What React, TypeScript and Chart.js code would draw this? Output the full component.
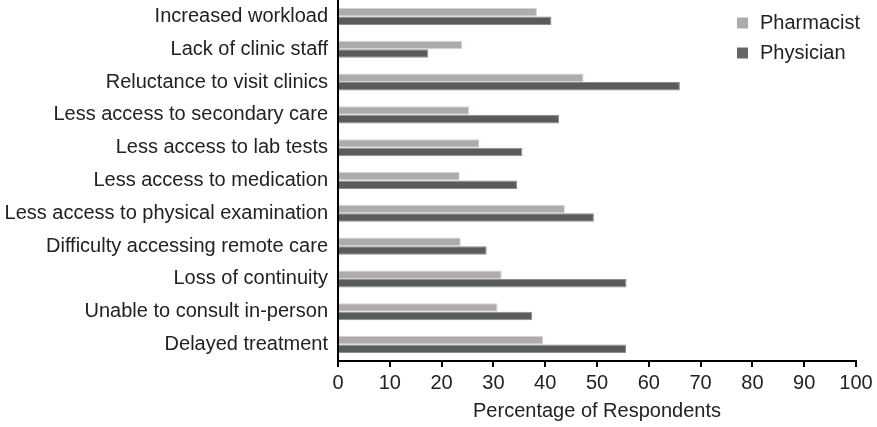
import React, { useEffect, useRef } from "react";
import { Chart, registerables } from "chart.js";

Chart.register(...registerables);

const categories = [
  "Increased workload",
  "Lack of clinic staff",
  "Reluctance to visit clinics",
  "Less access to secondary care",
  "Less access to lab tests",
  "Less access to medication",
  "Less access to physical examination",
  "Difficulty accessing remote care",
  "Loss of continuity",
  "Unable to consult in-person",
  "Delayed treatment",
];

const pharmacistValues = [38.4, 24.0, 47.4, 25.3, 27.3, 23.5, 43.8, 23.7, 31.6, 30.8, 39.6];
const physicianValues = [41.2, 17.4, 66.0, 42.7, 35.6, 34.6, 49.4, 28.7, 55.7, 37.5, 55.6];

const xTickStep = 10;
const xMin = 0;
const xMax = 100;
const xTitle = "Percentage of Respondents";

const FONT = "'Liberation Sans', Arial, sans-serif";
const TEXT = "#222222";

const legendPlugin = {
  id: "boxLegend",
  afterDatasetsDraw(chart: any) {
    const { ctx } = chart;
    const items = [
      { label: chart.data.datasets[0].label, color: "#acacac" },
      { label: chart.data.datasets[1].label, color: "#666666" },
    ];
    ctx.save();
    ctx.font = `20px ${FONT}`;
    ctx.textBaseline = "middle";
    ctx.textAlign = "left";
    items.forEach((it, i) => {
      const cy = 23 + i * 30;
      ctx.fillStyle = it.color;
      ctx.fillRect(737, cy - 5.5, 11, 11);
      ctx.fillStyle = TEXT;
      ctx.fillText(it.label, 760, cy);
    });
    ctx.restore();
  },
};

export default function App() {
  const ref = useRef<HTMLCanvasElement | null>(null);

  useEffect(() => {
    document.body.style.margin = "0";
    if (!ref.current) return;
    const chart = new Chart(ref.current, {
      type: "bar",
      data: {
        labels: categories,
        datasets: [
          {
            label: "Pharmacist",
            data: pharmacistValues,
            backgroundColor: "#afabaa",
            borderColor: "#d6d4d3",
            borderWidth: 1,
            borderSkipped: "left",
            categoryPercentage: 0.52,
            barPercentage: 1,
          },
          {
            label: "Physician",
            data: physicianValues,
            backgroundColor: "#5a5c5b",
            borderColor: "#8c8d8d",
            borderWidth: 1,
            borderSkipped: "left",
            categoryPercentage: 0.52,
            barPercentage: 1,
          },
        ],
      },
      options: {
        indexAxis: "y",
        animation: false,
        responsive: false,
        maintainAspectRatio: false,
        layout: { padding: { top: 0, right: 21, bottom: 4, left: 0 } },
        plugins: {
          legend: { display: false },
          tooltip: { enabled: false },
        },
        scales: {
          x: {
            min: xMin,
            max: xMax,
            ticks: {
              stepSize: xTickStep,
              color: TEXT,
              font: { family: FONT, size: 20 },
              padding: 4,
              maxRotation: 0,
            },
            grid: {
              display: true,
              drawOnChartArea: false,
              drawTicks: true,
              tickLength: 6,
              color: "#000000",
              lineWidth: 2,
            },
            border: { display: true, color: "#000000", width: 2 },
            title: {
              display: true,
              text: xTitle,
              color: TEXT,
              font: { family: FONT, size: 20 },
              padding: { top: 0, bottom: 0 },
            },
          },
          y: {
            ticks: {
              color: TEXT,
              font: { family: FONT, size: 20 },
              padding: 10,
              autoSkip: false,
            },
            grid: {
              display: true,
              drawOnChartArea: false,
              drawTicks: false,
            },
            border: { display: true, color: "#000000", width: 2 },
            afterFit(scale: any) {
              scale.width = 338;
              scale.paddingTop = 0;
              scale.paddingBottom = 0;
            },
          },
        },
      },
      plugins: [legendPlugin],
    });
    return () => chart.destroy();
  }, []);

  return (
    <div style={{ width: 877, height: 427, position: "relative" }}>
      <canvas ref={ref} width={877} height={427} style={{ display: "block", width: 877, height: 427 }} />
    </div>
  );
}
